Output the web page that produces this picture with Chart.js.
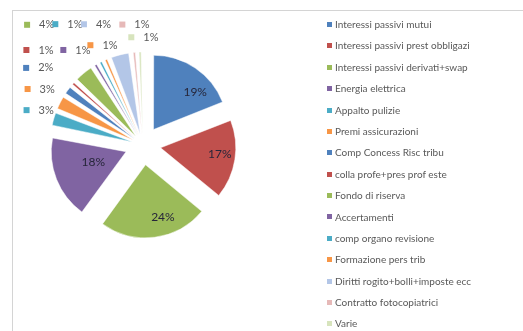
<!DOCTYPE html>
<html>
<head>
<meta charset="utf-8">
<script src="https://cdn.jsdelivr.net/npm/chart.js@4.4.0/dist/chart.umd.min.js"></script>
<style>
  html, body { margin: 0; padding: 0; background: #fff; overflow: hidden; }
  #wrap { position: relative; width: 523px; height: 331px; }
  #frame { position: absolute; left: 12px; top: 10px; right: -2px; bottom: -2px;
           border-left: 1px solid #d4d4d4; border-top: 1px solid #d4d4d4; }
  #chartPie { position: absolute; left: 0; top: 0; }
  #legenda { position: absolute; left: 327px; top: 14px; margin: 0; padding: 0; list-style: none;
             font: 10px Lato, sans-serif; color: #595959; }
  #legenda li { height: 21.4px; line-height: 21.4px; white-space: nowrap; }
  #legenda span { display: inline-block; width: 5px; height: 5px; margin-right: 3px; vertical-align: middle; position: relative; top: -1px; }
</style>
</head>
<body>
<div id="wrap">
  <div id="frame"></div>
  <canvas id="chartPie" width="523" height="331"></canvas>
  <ul id="legenda"></ul>
</div>
<script>
// voci di spesa e quote percentuali
const voci = [
    'Interessi passivi mutui',
    'Interessi passivi prest obbligazi',
    'Interessi passivi derivati+swap',
    'Energia elettrica',
    'Appalto pulizie',
    'Premi assicurazioni',
    'Comp Concess Risc tribu',
    'colla profe+pres prof este',
    'Fondo di riserva',
    'Accertamenti',
    'comp organo revisione',
    'Formazione pers trib',
    'Diritti rogito+bolli+imposte ecc',
    'Contratto fotocopiatrici',
    'Varie'
];
const quote = [19, 17, 24, 18, 3, 3, 2, 1, 4, 1, 1, 1, 4, 1, 1];
const colori = ['#4F81BD', '#C0504D', '#9BBB59', '#8064A2', '#4BACC6', '#F79646',
                '#4F81BD', '#C0504D', '#9BBB59', '#8064A2', '#4BACC6', '#F79646',
                '#B3C6E7', '#E6B9B8', '#D7E4BD'];

// posizione etichette: [rotazione in gradi rispetto al centro fetta, distanza in raggi]
const posEtichette = [
    [10.3, 1.02], [-2.3, 1.06], [-8.3, 1.02], [2.8, 0.72],
    [3.6, 1.41], [3.3, 1.52], [2.4, 1.70], [3.0, 1.86],
    [0.9, 2.11], [-1.7, 1.54], [-2.4, 1.90], [5.1, 1.44],
    [-3.7, 1.74], [4.9, 1.65], [6.0, 1.48]
];

const ESPLOSO = 20; // px di distacco di ogni fetta
const totale = quote.reduce((a, b) => a + b, 0);

// Chart.js sposta la fetta di offset/4*(1+fix): ricavo l'offset per avere lo stesso distacco
function offsetFetta(c) {
    if (c.dataIndex === undefined) return 0;
    const circ = quote[c.dataIndex] / totale * 2 * Math.PI;
    const fix = 1 - Math.sin(Math.min(Math.PI, circ));
    return 4 * ESPLOSO / (1 + fix);
}

const etichette = {
    id: 'etichette',
    afterDatasetsDraw(chart) {
        const ctx = chart.ctx;
        const meta = chart.getDatasetMeta(0);
        ctx.save();
        ctx.textAlign = 'center';
        ctx.textBaseline = 'middle';
        meta.data.forEach((arc, i) => {
            const p = arc.getProps(['x', 'y', 'startAngle', 'endAngle', 'outerRadius'], true);
            const [giro, dist] = posEtichette[i];
            const a = (p.startAngle + p.endAngle) / 2 + giro * Math.PI / 180;
            const px = p.x + Math.cos(a) * dist * p.outerRadius;
            const py = p.y + Math.sin(a) * dist * p.outerRadius;
            const testo = Math.round(quote[i] / totale * 100) + '%';
            if (dist > 1.2) {
                // etichetta esterna con il quadratino della legenda
                ctx.font = '11px Lato, sans-serif';
                const w = ctx.measureText(testo).width;
                ctx.fillStyle = colori[i];
                ctx.fillRect(px - w / 2 - 15, py - 3, 6, 6);
                ctx.fillStyle = '#595959';
            } else {
                ctx.font = '12px Lato, sans-serif';
                ctx.fillStyle = '#26263a';
            }
            ctx.fillText(testo, px, py);
        });
        ctx.restore();
    }
};

const legendaHtml = {
    id: 'legendaHtml',
    afterUpdate(chart) {
        const ul = document.getElementById('legenda');
        ul.innerHTML = '';
        chart.data.labels.forEach((l, i) => {
            const li = document.createElement('li');
            const sq = document.createElement('span');
            sq.style.background = chart.data.datasets[0].backgroundColor[i];
            li.appendChild(sq);
            li.appendChild(document.createTextNode(l));
            ul.appendChild(li);
        });
    }
};

new Chart(document.getElementById('chartPie'), {
    type: 'pie',
    data: {
        labels: voci,
        datasets: [{
            data: quote,
            backgroundColor: colori,
            borderColor: '#ffffff',
            borderWidth: 0.5,
            offset: offsetFetta,
            hoverOffset: 0
        }]
    },
    options: {
        responsive: false,
        animation: false,
        events: [],
        radius: 73,
        layout: { padding: { left: 0, top: 0, right: 237, bottom: 41 } },
        plugins: {
            legend: { display: false },
            tooltip: { enabled: false }
        }
    },
    plugins: [etichette, legendaHtml]
});
</script>
</body>
</html>
